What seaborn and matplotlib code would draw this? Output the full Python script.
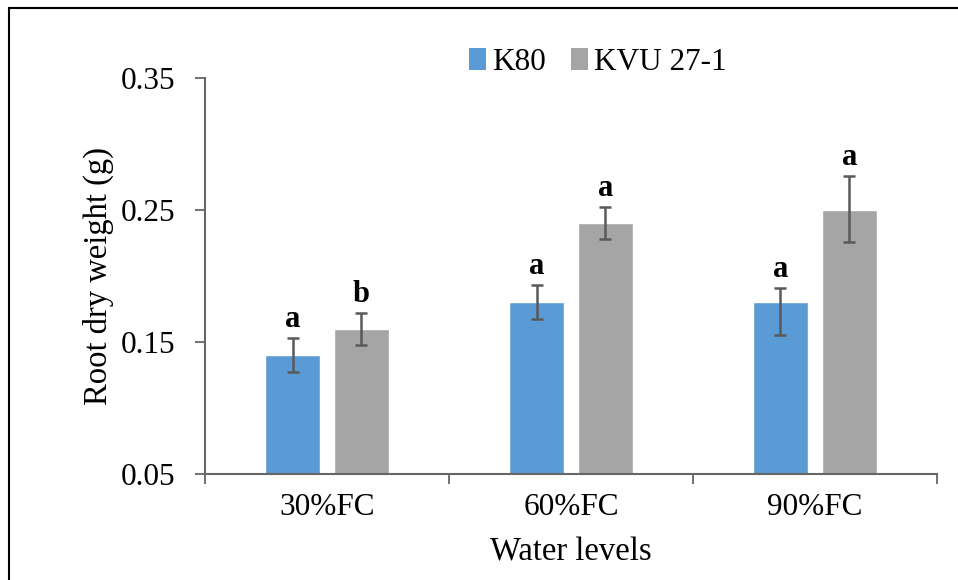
import numpy as np
import pandas as pd
import seaborn as sns
import matplotlib
matplotlib.use("Agg")
import matplotlib.pyplot as plt
from matplotlib.patches import Patch, Rectangle

# values
levels = ["30%FC", "60%FC", "90%FC"]
varieties = ["K80", "KVU 27-1"]
k80 = [0.14, 0.18, 0.18]
kvu = [0.16, 0.24, 0.25]
k80_err_low = [0.013, 0.013, 0.025]
k80_err_high = [0.013, 0.013, 0.011]
kvu_err_low = [0.012, 0.012, 0.024]
kvu_err_high = [0.012, 0.012, 0.026]
k80_letters = ["a", "a", "a"]
kvu_letters = ["b", "a", "a"]
yticks = [0.05, 0.15, 0.25, 0.35]

colors = ["#5B9BD5", "#A5A5A5"]

df = pd.DataFrame({
    "level": levels * 2,
    "variety": [varieties[0]] * 3 + [varieties[1]] * 3,
    "weight": k80 + kvu,
})

sns.set_style("white")
plt.rcParams["font.family"] = ["Liberation Serif", "DejaVu Serif"]
plt.rcParams["text.color"] = "black"
plt.rcParams["xtick.color"] = "black"
plt.rcParams["ytick.color"] = "black"
plt.rcParams["axes.labelcolor"] = "black"

fig = plt.figure(figsize=(9.58, 5.80), dpi=100)
ax = fig.add_axes([0.214, 0.183, 0.764, 0.6825])

sns.barplot(data=df, x="level", y="weight", hue="variety", palette=colors,
            saturation=1, width=0.565, gap=0.2, errorbar=None, legend=False, ax=ax)

# error bars + significance letters on top of each bar
lows = [k80_err_low, kvu_err_low]
highs = [k80_err_high, kvu_err_high]
vals = [k80, kvu]
lets = [k80_letters, kvu_letters]
bars = ax.patches
for h in range(2):
    for i in range(3):
        b = bars[h * 3 + i]
        xc = b.get_x() + b.get_width() / 2
        ax.errorbar(xc, vals[h][i], yerr=[[lows[h][i]], [highs[h][i]]],
                    fmt="none", ecolor="#595959", elinewidth=1.8,
                    capsize=4.5, capthick=1.8)
        ax.text(xc, vals[h][i] + highs[h][i] + 0.003, lets[h][i],
                ha="center", va="bottom", fontsize=22, fontweight="bold")

ax.set_ylim(0.05, 0.35)
ax.set_xlim(-0.5, 2.5)
ax.set_yticks(yticks)
ax.set_yticklabels(["%.2f" % t for t in yticks])
ax.set_xticks([0.5 * k - 0.5 for k in range(0, 7, 2)], minor=True)
ax.tick_params(axis="x", which="major", length=0, pad=14, labelsize=22.5)
ax.tick_params(axis="x", which="minor", length=7, width=1.3, color="#666666", bottom=True)
ax.tick_params(axis="y", length=7, width=1.3, color="#666666", labelcolor="black",
               left=True, pad=14, labelsize=22.5)

for s in ["top", "right"]:
    ax.spines[s].set_visible(False)
for s in ["left", "bottom"]:
    ax.spines[s].set_color("#666666")
    ax.spines[s].set_linewidth(1.5)

ax.set_xlabel("Water levels", fontsize=23.5)
ax.set_ylabel("Root dry weight (g)", fontsize=23.5)
ax.xaxis.set_label_coords(0.5, -0.16)
ax.yaxis.set_label_coords(-0.125, 0.5)

handles = [Patch(facecolor=c, edgecolor="none") for c in colors]
fig.legend(handles, varieties, loc="center", bbox_to_anchor=(0.624, 0.893),
           ncol=2, frameon=False, fontsize=22.5, handlelength=0.55,
           handleheight=0.7, handletextpad=0.2, columnspacing=0.8)

# outer chart border (only left and top visible in the original crop)
fig.add_artist(Rectangle((0.009, -0.5), 1.5, 1.486, transform=fig.transFigure,
                         fill=False, edgecolor="black", linewidth=1.5))

fig.savefig("out.png", dpi=100)
